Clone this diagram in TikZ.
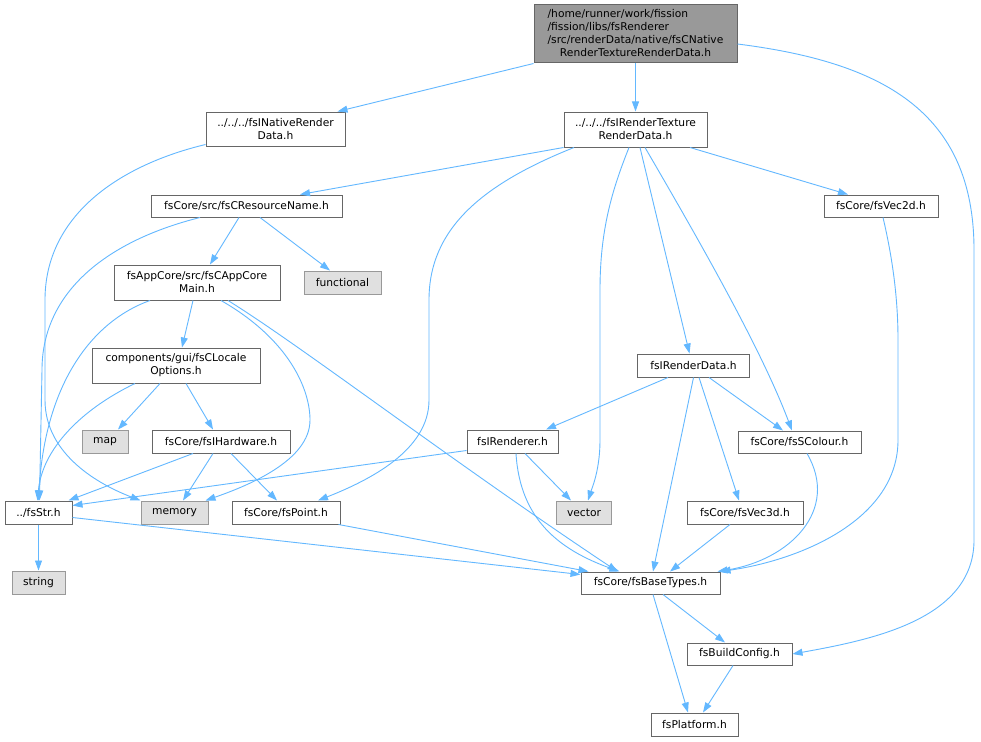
\documentclass[tikz,border=0pt]{standalone}
\usepackage{fontspec}
\setmainfont{DejaVu Sans}
\usetikzlibrary{arrows.meta}
\definecolor{edgec}{HTML}{63B8FF}
\definecolor{bordc}{HTML}{666666}
\definecolor{rootf}{HTML}{999999}
\definecolor{extb}{HTML}{999999}
\definecolor{extf}{HTML}{E0E0E0}
\begin{document}
\begin{tikzpicture}[x=1pt,y=-1pt,
  box/.style={draw=bordc, fill=white, line width=1pt, inner sep=0pt, align=center, font=\fontsize{10.7}{13}\selectfont},
  ext/.style={box, draw=extb, fill=extf},
  rootbox/.style={box, fill=rootf},
  dep/.style={draw=edgec, line width=0.9pt, -{Triangle[length=10pt,width=7pt]}}]
\useasboundingbox[fill=white] (0,0) rectangle (981,741);

% nodes
\node[rootbox, minimum width=203pt, minimum height=58pt] (root) at (635.5,34)
  {\begin{tabular}{@{}l@{}}/home/runner/work/fission\\/fission/libs/fsRenderer\\/src/renderData/native/fsCNative\\\multicolumn{1}{@{}c@{}}{RenderTextureRenderData.h}\end{tabular}};
\node[box, minimum width=139pt, minimum height=34pt] (nativeRD) at (275.5,129) {../../../fsINativeRender\\Data.h};
\node[box, minimum width=143pt, minimum height=35pt] (texRD) at (635.5,129.5) {../../../fsIRenderTexture\\RenderData.h};
\node[box, minimum width=191pt, minimum height=22pt] (resName) at (246.5,206) {fsCore/src/fsCResourceName.h};
\node[box, minimum width=114pt, minimum height=22pt] (vec2d) at (881,206) {fsCore/fsVec2d.h};
\node[box, minimum width=166pt, minimum height=35pt] (appCore) at (197,282.5) {fsAppCore/src/fsCAppCore\\Main.h};
\node[ext, minimum width=77pt, minimum height=23pt] (functional) at (342.5,282.5) {functional};
\node[box, minimum width=112pt, minimum height=23pt] (renderData) at (693.5,365.5) {fsIRenderData.h};
\node[box, minimum width=168pt, minimum height=35pt] (locale) at (176,365.5) {components/gui/fsCLocale\\Options.h};
\node[ext, minimum width=46pt, minimum height=23pt] (map) at (105,441.5) {map};
\node[box, minimum width=138pt, minimum height=23pt] (hardware) at (221,441.5) {fsCore/fsIHardware.h};
\node[box, minimum width=91pt, minimum height=23pt] (renderer) at (512.5,441.5) {fsIRenderer.h};
\node[box, minimum width=123pt, minimum height=22pt] (colour) at (799.5,442) {fsCore/fsSColour.h};
\node[box, minimum width=67pt, minimum height=23pt] (fsStr) at (38.5,512.5) {../fsStr.h};
\node[ext, minimum width=67pt, minimum height=23pt] (memory) at (174.5,512.5) {memory};
\node[box, minimum width=108pt, minimum height=23pt] (point) at (286,512.5) {fsCore/fsPoint.h};
\node[ext, minimum width=55pt, minimum height=23pt] (vector) at (584,512.5) {vector};
\node[box, minimum width=116pt, minimum height=23pt] (vec3d) at (745,512.5) {fsCore/fsVec3d.h};
\node[ext, minimum width=53pt, minimum height=23pt] (string) at (38.5,582.5) {string};
\node[box, minimum width=139pt, minimum height=22pt] (baseTypes) at (650.5,583) {fsCore/fsBaseTypes.h};
\node[box, minimum width=105pt, minimum height=22pt] (buildConfig) at (739.5,654) {fsBuildConfig.h};
\node[box, minimum width=87pt, minimum height=23pt] (platform) at (694.5,724.5) {fsPlatform.h};

% edges
\draw[dep] (root.south west) -- ([xshift=62pt]nativeRD.north);
\draw[dep] (root.south) -- (texRD.north);
\draw[dep] ([yshift=-10pt]root.east) .. controls (880,62) and (974,110) .. (974,250) -- (974,540) .. controls (974,620) and (870,640) .. (buildConfig.east);
\draw[dep] ([yshift=2pt]nativeRD.south west) .. controls (120,165) and (45,215) .. (45,300) -- (45,400) .. controls (45,455) and (100,485) .. (memory.north west);
\draw[dep] (texRD.south west) -- ([xshift=53.5pt]resName.north);
\draw[dep] ([xshift=-61.5pt]texRD.south) .. controls (480,185) and (429,230) .. (429,300) -- (429,400) .. controls (429,450) and (370,480) .. ([xshift=32pt]point.north);
\draw[dep] ([xshift=-6.5pt]texRD.south) .. controls (612,190) and (600,230) .. (600,290) -- (600,440) .. controls (600,470) and (592,488) .. ([xshift=4pt]vector.north);
\draw[dep] ([xshift=4.5pt]texRD.south) -- ([xshift=-4pt]renderData.north);
\draw[dep] ([xshift=9.5pt]texRD.south) .. controls (703,247) and (762,351) .. ([xshift=-7.5pt]colour.north);
\draw[dep] ([xshift=54.5pt]texRD.south) -- ([xshift=-33pt]vec2d.north);
\draw[dep] ([xshift=-46.5pt]resName.south) .. controls (110,240) and (42,290) .. (42,370) -- ([xshift=1pt]fsStr.north);
\draw[dep] ([xshift=-7.5pt]resName.south) -- ([xshift=13pt]appCore.north);
\draw[dep] ([xshift=13.5pt]resName.south) -- ([xshift=-12.5pt]functional.north);
\draw[dep] ([xshift=-47pt]appCore.south) .. controls (95,320) and (45,380) .. (fsStr.north);
\draw[dep] ([xshift=-4pt]appCore.south) -- ([xshift=6pt]locale.north);
\draw[dep] ([xshift=24pt]appCore.south) .. controls (290,340) and (310,390) .. (310,420) .. controls (310,460) and (250,485) .. ([xshift=-3pt]memory.north east);
\draw[dep] ([xshift=31pt]appCore.south) .. controls (300,345) and (450,460) .. ([xshift=-33pt]baseTypes.north);
\draw[dep] ([xshift=-41pt]locale.south) .. controls (80,410) and (42,450) .. ([xshift=-1pt]fsStr.north);
\draw[dep] ([xshift=-16pt]locale.south) -- ([xshift=13pt]map.north);
\draw[dep] ([xshift=10pt]locale.south) -- ([xshift=-8pt]hardware.north);
\draw[dep] ([xshift=-28pt]hardware.south) -- ([xshift=-4pt]fsStr.north east);
\draw[dep] ([xshift=-8pt]hardware.south) -- ([xshift=8.5pt]memory.north);
\draw[dep] ([xshift=10pt]hardware.south) -- ([xshift=-9pt]point.north);
\draw[dep] ([yshift=3pt]renderer.south west) -- ([yshift=7pt]fsStr.east);
\draw[dep] ([xshift=12.5pt]renderer.south) -- ([xshift=-13pt]vector.north);
\draw[dep] ([xshift=3.5pt]renderer.south) .. controls (520,520) and (560,550) .. ([xshift=-31pt]baseTypes.north);
\draw[dep] ([xshift=-25.5pt]renderData.south) -- ([xshift=33.5pt]renderer.north);
\draw[dep] (renderData.south) -- ([xshift=2.5pt]baseTypes.north);
\draw[dep] ([xshift=5.5pt]renderData.south) -- ([xshift=-6pt]vec3d.north);
\draw[dep] ([xshift=15.5pt]renderData.south) -- ([xshift=-16.5pt]colour.north);
\draw[dep] ([xshift=7.5pt]colour.south) .. controls (840,510) and (790,560) .. ([xshift=-3pt]baseTypes.north east);
\draw[dep] ([xshift=2pt]vec2d.south) .. controls (893,260) and (898,300) .. (898,340) -- (898,440) .. controls (898,520) and (800,560) .. (baseTypes.north east);
\draw[dep] ([xshift=-2pt]point.south east) -- ([xshift=8pt]baseTypes.north west);
\draw[dep] (fsStr.south) -- (string.north);
\draw[dep] ([yshift=-5pt]fsStr.east) -- ([yshift=-3pt]baseTypes.north west);
\draw[dep] ([xshift=-15pt]vec3d.south) -- ([xshift=19.5pt]baseTypes.north);
\draw[dep] ([xshift=12.5pt]baseTypes.south) -- ([xshift=-14.5pt]buildConfig.north);
\draw[dep] ([xshift=2.5pt]baseTypes.south) -- ([xshift=-6.5pt]platform.north);
\draw[dep] ([xshift=-6.5pt]buildConfig.south) -- ([xshift=8.5pt]platform.north);
\end{tikzpicture}
\end{document}
